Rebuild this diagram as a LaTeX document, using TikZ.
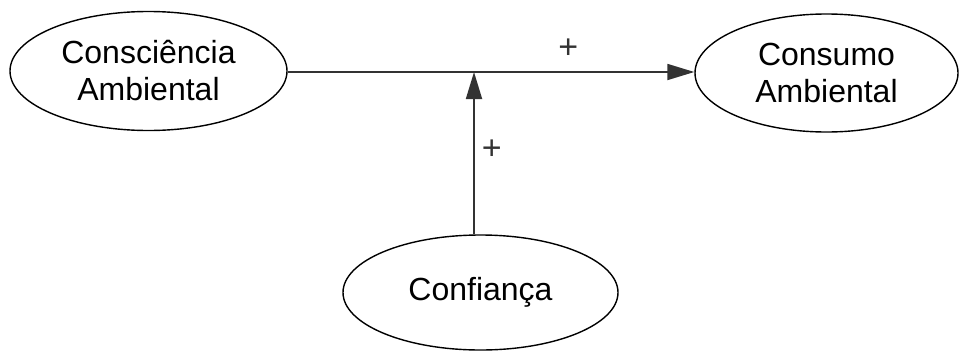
\documentclass[tikz,border=0pt]{standalone}
\usepackage{fontspec}
\setmainfont{Liberation Sans}
\usepackage{tikz}
\usetikzlibrary{arrows.meta,shapes.geometric}
\definecolor{edge}{HTML}{333333}

\begin{document}
\begin{tikzpicture}[x=1pt,y=-1pt,
    construct/.style={ellipse,draw=black,line width=1.4pt,inner sep=0pt,
                      align=center,font=\fontsize{32}{37}\selectfont},
    arr/.style={-{Triangle[length=27pt,width=16pt]},line width=1.8pt,color=edge},
    sign/.style={font=\fontsize{34}{34}\selectfont,inner sep=1pt}
  ]
    \useasboundingbox (0,0) rectangle (960,351);
    \node[construct,minimum width=277pt,minimum height=119pt] (consc) at (148.5,71)
          {Consciência\\Ambiental};
    \node[construct,minimum width=263pt,minimum height=118pt] (consumo) at (826.5,73)
          {Consumo\\Ambiental};
    \node[construct,minimum width=275pt,minimum height=115pt] (conf) at (480.5,292.5)
          {Confiança};
    \coordinate (jn) at (474,72);
    \draw[arr] (consc.east |- jn) -- (consumo.west |- jn)
          node[pos=0.69,above=12pt,sign] (plus1) {+};
    \draw[arr] (conf.north -| jn) -- (jn)
          node[pos=0.52,right=6pt,sign] (plus2) {+};
  \end{tikzpicture}
\end{document}
